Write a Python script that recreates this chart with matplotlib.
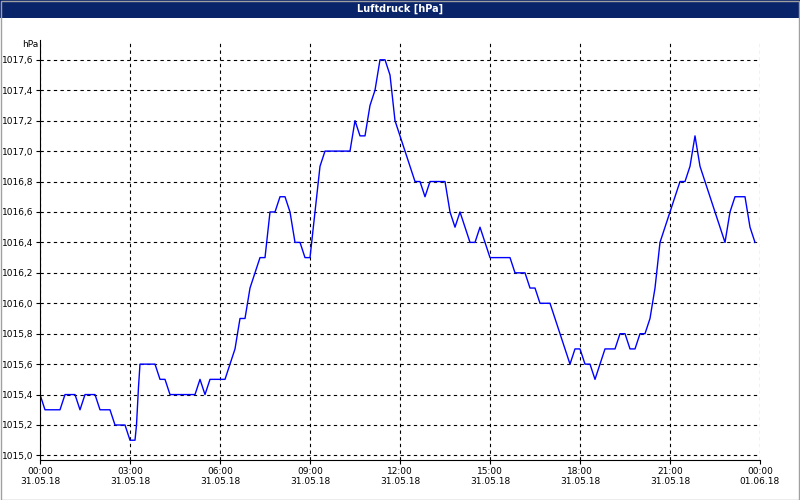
import matplotlib.pyplot as plt
from matplotlib.patches import Rectangle

# minutes since 00:00 on 31.05.18, and pressure in hPa
minutes = [0, 10, 40, 50, 70, 80, 90, 110, 120, 140, 150, 170, 180, 190, 193, 197, 200,
           230, 240, 250, 260, 310, 320, 330, 340, 370, 380, 390, 400, 410, 420, 430,
           440, 450, 460, 470, 480, 490, 500, 510, 520, 530, 540, 550, 560, 570,
           580, 590, 600, 610, 620, 630, 640, 650, 660, 670, 680, 690, 700, 710,
           720, 730, 740, 750, 760, 770, 780, 790, 800, 810, 820, 830, 840, 850,
           860, 870, 880, 890, 900, 940, 950, 970, 980, 990, 1000, 1020, 1030, 1040,
           1050, 1060, 1070, 1080, 1090, 1100, 1110, 1120, 1130, 1150, 1160, 1170,
           1180, 1190, 1200, 1210, 1220, 1230, 1240, 1250, 1260, 1270, 1280, 1290,
           1300, 1310, 1320, 1330, 1340, 1350, 1360, 1370, 1380, 1390, 1410, 1420, 1430]
hpa = [1015.4, 1015.3, 1015.3, 1015.4, 1015.4, 1015.3, 1015.4, 1015.4, 1015.3, 1015.3,
       1015.2, 1015.2, 1015.1, 1015.1, 1015.2, 1015.45, 1015.6,
       1015.6, 1015.5, 1015.5, 1015.4, 1015.4, 1015.5, 1015.4, 1015.5, 1015.5, 1015.6,
       1015.7, 1015.9, 1015.9, 1016.1, 1016.2, 1016.3, 1016.3, 1016.6, 1016.6, 1016.7,
       1016.7, 1016.6, 1016.4, 1016.4, 1016.3, 1016.3, 1016.6, 1016.9, 1017.0,
       1017.0, 1017.0, 1017.0, 1017.0, 1017.0, 1017.2, 1017.1, 1017.1, 1017.3, 1017.4,
       1017.6, 1017.6, 1017.5, 1017.2, 1017.1, 1017.0, 1016.9, 1016.8, 1016.8, 1016.7,
       1016.8, 1016.8, 1016.8, 1016.8, 1016.6, 1016.5, 1016.6, 1016.5, 1016.4, 1016.4,
       1016.5, 1016.4, 1016.3, 1016.3, 1016.2, 1016.2, 1016.1, 1016.1, 1016.0, 1016.0,
       1015.9, 1015.8, 1015.7, 1015.6, 1015.7, 1015.7, 1015.6, 1015.6, 1015.5, 1015.6,
       1015.7, 1015.7, 1015.8, 1015.8, 1015.7, 1015.7, 1015.8, 1015.8, 1015.9, 1016.1,
       1016.4, 1016.5, 1016.6, 1016.7, 1016.8, 1016.8, 1016.9, 1017.1, 1016.9, 1016.8,
       1016.7, 1016.6, 1016.5, 1016.4, 1016.6, 1016.7, 1016.7, 1016.5, 1016.4]

xticks = list(range(0, 1441, 180))
xlabels = ["00:00\n31.05.18", "03:00\n31.05.18", "06:00\n31.05.18", "09:00\n31.05.18",
           "12:00\n31.05.18", "15:00\n31.05.18", "18:00\n31.05.18", "21:00\n31.05.18",
           "00:00\n01.06.18"]
yticks = [1015.0 + 0.2 * i for i in range(14)]

plt.rcParams['font.family'] = 'DejaVu Sans'
plt.rcParams['font.size'] = 6.5

fig = plt.figure(figsize=(8, 5), dpi=100)
fig.patch.set_facecolor('white')
# window title bar and border
fig.patches.append(Rectangle((0, 482 / 500), 1, 18 / 500, transform=fig.transFigure,
                             facecolor='#0a246a', edgecolor='none'))
fig.patches.append(Rectangle((0.001, 0.001), 0.998, 0.998, transform=fig.transFigure,
                             facecolor='none', edgecolor='#a0a0a0', lw=1))
fig.text(0.5, 491 / 500, "Luftdruck [hPa]", color='white', fontweight='bold',
         ha='center', va='center', fontsize=7)

ax = fig.add_axes([40 / 800, 40 / 500, 720 / 800, 420 / 500])
ax.plot(minutes, hpa, color='#0000ff', lw=1)
ax.set_xlim(0, 1440)
ax.set_ylim(1014.97, 1017.73)
ax.set_xticks(xticks)
ax.set_xticklabels(xlabels)
ax.set_yticks(yticks)
ax.set_yticklabels([f"{v:.1f}".replace('.', ',') for v in yticks])
ax.grid(True, color='black', linestyle=(0, (3, 3)), lw=0.8)
for s in ['top', 'right']:
    ax.spines[s].set_visible(False)
ax.tick_params(length=3, pad=2)
ax.text(-0.025, 1.0, "hPa", transform=ax.transAxes, ha='left', va='top', fontsize=6.5)

fig.savefig("out.png", dpi=100)
